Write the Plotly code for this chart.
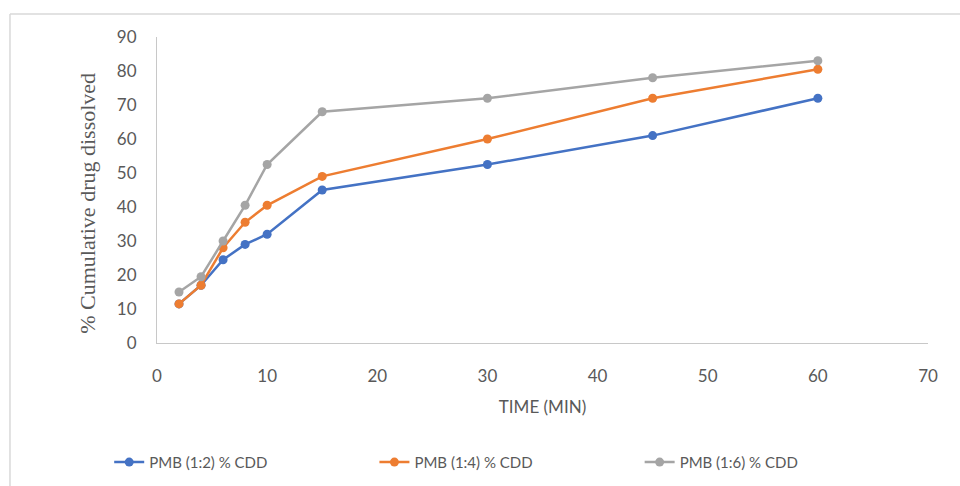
import plotly.graph_objects as go

time_min = [2, 4, 6, 8, 10, 15, 30, 45, 60]
pmb_12 = [11.5, 17, 24.5, 29, 32, 45, 52.5, 61, 72]
pmb_14 = [11.5, 17, 28, 35.5, 40.5, 49, 60, 72, 80.5]
pmb_16 = [15, 19.5, 30, 40.5, 52.5, 68, 72, 78, 83]
series_names = ["PMB (1:2) % CDD", "PMB (1:4) % CDD", "PMB (1:6) % CDD"]
colors = ["#4472C4", "#ED7D31", "#A5A5A5"]
legend_ids = ["legend", "legend2", "legend3"]

fig = go.Figure()
for name, vals, c, lg in zip(series_names, [pmb_12, pmb_14, pmb_16], colors, legend_ids):
    fig.add_trace(go.Scatter(x=time_min, y=vals, name=name, mode="lines+markers",
                             line=dict(color=c, width=2.5),
                             marker=dict(color=c, size=9), legend=lg))

tick_font = dict(family="Lato, Liberation Sans, sans-serif", size=17, color="#595959")
legend_font = dict(family="Lato, Liberation Sans, sans-serif", size=15, color="#595959")
legend_x = [-0.062, 0.282, 0.626]

def legend_cfg(x):
    return dict(orientation="h", x=x, xanchor="left", y=-0.39, yanchor="middle",
                font=legend_font, bgcolor="rgba(0,0,0,0)")

fig.update_layout(
    width=960, height=486,
    margin=dict(l=157, r=32, t=37, b=143, autoexpand=False),
    paper_bgcolor="white", plot_bgcolor="white",
    showlegend=True,
    legend=legend_cfg(legend_x[0]),
    legend2=legend_cfg(legend_x[1]),
    legend3=legend_cfg(legend_x[2]),
    xaxis=dict(range=[0, 70], dtick=10, showgrid=False, zeroline=False,
               showline=True, linecolor="#C8C8C8", linewidth=1,
               tickfont=tick_font, ticks="outside", ticklen=18, tickcolor="rgba(0,0,0,0)",
               title=dict(text="TIME (MIN)", font=tick_font, standoff=15)),
    yaxis=dict(range=[0, 90], dtick=10, showgrid=False, zeroline=False,
               showline=True, linecolor="#C8C8C8", linewidth=1,
               tickfont=tick_font, ticks="outside", ticklen=16, tickcolor="rgba(0,0,0,0)"),
    annotations=[
        dict(text="% Cumulative drug dissolved", xref="paper", yref="paper",
             x=-0.0895, y=0.458, xanchor="center", yanchor="middle", textangle=-90,
             showarrow=False,
             font=dict(family="Liberation Serif, serif", size=22, color="#595959")),
    ],
    shapes=[
        dict(type="line", xref="paper", yref="paper", x0=-0.1907, x1=1.05, y0=1.075, y1=1.075,
             line=dict(color="#D9D9D9", width=1.5)),
        dict(type="line", xref="paper", yref="paper", x0=-0.1907, x1=-0.1907, y0=1.075, y1=-0.48,
             line=dict(color="#D9D9D9", width=1.5)),
    ],
)

fig.write_html("out.html")
